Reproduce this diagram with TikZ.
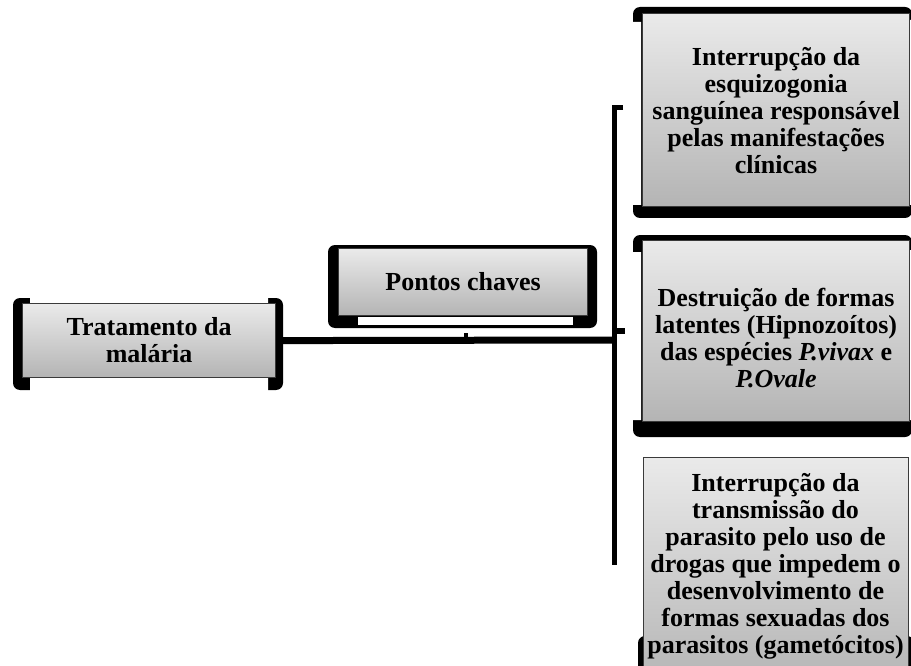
\documentclass[tikz,border=0pt]{standalone}
\usepackage{fontspec}
\setmainfont{Liberation Serif}
\definecolor{gtop}{HTML}{EAEAEA}
\definecolor{gbot}{HTML}{B4B4B4}
\definecolor{panelline}{HTML}{3A3A3A}
\begin{document}
\begin{tikzpicture}[x=1pt,y=-1pt,
  panel/.style={draw=panelline, line width=1.2pt, top color=gtop, bottom color=gbot,
    inner sep=0pt, anchor=north west},
  lbl/.style={font=\fontsize{26}{27}\selectfont\bfseries, align=center, inner sep=0pt},
  frame/.style={fill=black, rounded corners=7pt},
  cut/.style={fill=white},
  bar/.style={draw=black, line width=7pt}
]
\useasboundingbox (0,0) rectangle (911,666);
\clip (0,0) rectangle (911,666);

% spine of the bracket that groups the three key points
\coordinate (sptop) at (614.5,107.5);
\coordinate (hub) at (614.5,340);
\coordinate (spbot) at (614.5,565);
\coordinate (hook) at (623,107.5);
\coordinate (tickr) at (625,331);
\draw[line width=5.5pt] (hook) -- (sptop) -- (spbot);
\draw[line width=6pt] (616,331) -- (tickr);

% left box: treatment
\fill[frame] (13,298) rectangle (283,390);
\fill[cut] (30,297) rectangle (268,303.5) (30,376.5) rectangle (268,391);
\node[panel, lbl, minimum width=253pt, minimum height=74pt] (t1) at (22,303)
  {Tratamento da\\malária};
\draw[bar] (t1.east) -- (hub);

% middle box: key points
\fill[frame] (328,245) rectangle (597,328);
\node[panel, lbl, minimum width=249pt, minimum height=67pt] (pc) at (338,248)
  {Pontos chaves};
\fill[cut] (358,317) rectangle (573,325);
\draw[line width=4pt] ([xshift=2.5pt,yshift=-17pt]pc.south) -- ([xshift=2.5pt,yshift=-25pt]pc.south);

% right box A
\fill[frame] (633,7) rectangle (912,218);
\fill[cut] (632,22) rectangle (641,205) (910,20) rectangle (913,205);
\node[panel, lbl, minimum width=267pt, minimum height=193pt] (ra) at (642,13)
  {Interrupção da\\esquizogonia\\sanguínea responsável\\pelas manifestações\\clínicas};

% right box B
\fill[frame] (633,235) rectangle (912,437);
\fill[cut] (632,252) rectangle (641,420) (910,250) rectangle (913,420);
\node[panel, minimum width=267pt, minimum height=181pt] (rb) at (642,240) {};
\node[lbl] (rbt) at ([yshift=-7pt]rb.center)
  {Destruição de formas\\latentes (Hipnozoítos)\\das espécies \textit{P.vivax} e\\\textit{P.Ovale}};

% right box C
\fill[frame] (638,636) rectangle (914,700);
\node[panel, minimum width=265pt, minimum height=230pt] (rc) at (643,457) {};
\node[lbl] (rct) at (775.5,566)
  {Interrupção da\\transmissão do\\parasito pelo uso de\\drogas que impedem o\\desenvolvimento de\\formas sexuadas dos\\parasitos (gametócitos)};
\end{tikzpicture}
\end{document}
